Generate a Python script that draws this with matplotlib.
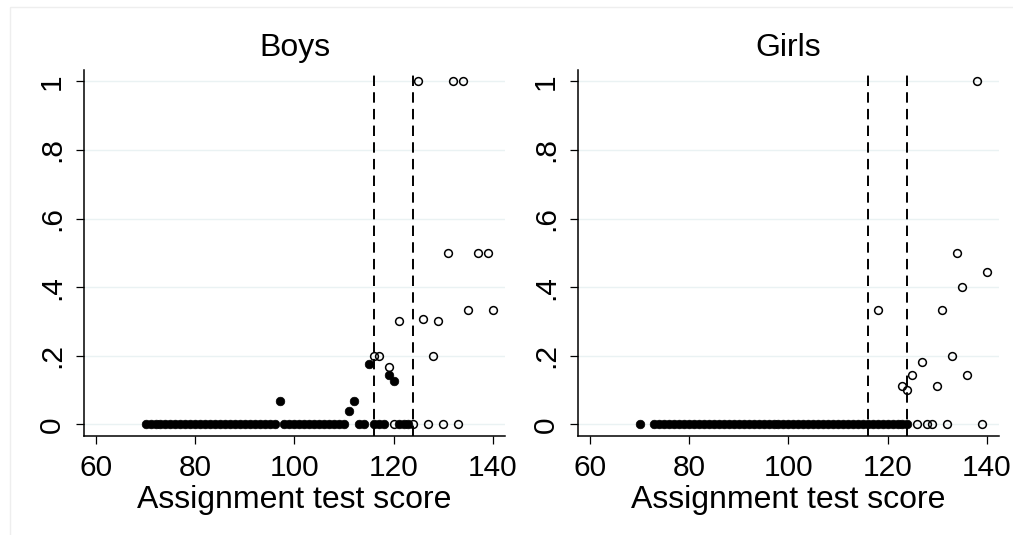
import matplotlib
matplotlib.use("Agg")
import matplotlib.pyplot as plt
from matplotlib.patches import Rectangle

plt.rcParams['font.family'] = ['Liberation Sans', 'DejaVu Sans']
plt.rcParams['lines.scale_dashes'] = False

# ---------------- data ----------------
panel_titles = ["Boys", "Girls"]
cutoffs = [116, 124]
x_ticks = [60, 80, 100, 120, 140]
y_ticks = [0, 0.2, 0.4, 0.6, 0.8, 1]
y_tick_labels = ["0", ".2", ".4", ".6", ".8", "1"]
x_label = "Assignment test score"

boys_filled_x = [70, 71, 72, 73, 74, 75, 76, 77, 78, 79, 80, 81, 82, 83, 84, 85,
                 86, 87, 88, 89, 90, 91, 92, 93, 94, 95, 96, 97, 98, 99, 100, 101,
                 102, 103, 104, 105, 106, 107, 108, 109, 110, 111, 112, 113, 114,
                 115, 116, 117, 118, 119, 120, 121, 122, 123]
boys_filled_y = [0, 0, 0, 0, 0, 0, 0, 0, 0, 0, 0, 0, 0, 0, 0, 0,
                 0, 0, 0, 0, 0, 0, 0, 0, 0, 0, 0, 0.067, 0, 0, 0, 0,
                 0, 0, 0, 0, 0, 0, 0, 0, 0, 0.04, 0.067, 0, 0,
                 0.176, 0, 0, 0, 0.143, 0.125, 0, 0, 0]

boys_hollow_x = [116, 117, 119, 120, 121, 124, 125, 126, 127, 128, 129, 130,
                 131, 132, 133, 134, 135, 137, 139, 140]
boys_hollow_y = [0.2, 0.2, 0.167, 0, 0.3, 0, 1, 0.308, 0, 0.2, 0.3, 0,
                 0.5, 1, 0, 1, 0.333, 0.5, 0.5, 0.333]

girls_filled_x = [70, 73, 74, 75, 76, 77, 78, 79, 80, 81, 82, 83, 84, 85, 86, 87,
                  88, 89, 90, 91, 92, 93, 94, 95, 96, 97, 98, 99, 100, 101, 102,
                  103, 104, 105, 106, 107, 108, 109, 110, 111, 112, 113, 114, 115,
                  116, 117, 118, 119, 120, 121, 122, 123, 124]
girls_filled_y = [0, 0, 0, 0, 0, 0, 0, 0, 0, 0, 0, 0, 0, 0, 0, 0,
                  0, 0, 0, 0, 0, 0, 0, 0, 0, 0, 0, 0, 0, 0, 0,
                  0, 0, 0, 0, 0, 0, 0, 0, 0, 0, 0, 0, 0,
                  0, 0, 0, 0, 0, 0, 0, 0, 0]

girls_hollow_x = [118, 123, 124, 125, 126, 127, 128, 129, 130, 131, 132, 133,
                  134, 135, 136, 138, 139, 140]
girls_hollow_y = [0.333, 0.111, 0.1, 0.143, 0, 0.182, 0, 0, 0.111, 0.333, 0, 0.2,
                  0.5, 0.4, 0.143, 1, 0, 0.444]

panels = [
    (boys_filled_x, boys_filled_y, boys_hollow_x, boys_hollow_y),
    (girls_filled_x, girls_filled_y, girls_hollow_x, girls_hollow_y),
]

# ---------------- figure ----------------
W, H = 1013, 535
fig = plt.figure(figsize=(W / 100, H / 100), dpi=100)
fig.patch.set_facecolor("white")

# faint outer graph-region border
fig.patches.append(Rectangle((10 / W, -0.1), 1.2, (H - 7) / H + 0.1,
                             transform=fig.transFigure, fill=False,
                             edgecolor="#eeeeee", linewidth=1.0))

ax_lefts = [84, 578]
ax_w = 421
ax_top, ax_bottom = 70, 436

for i, (fx, fy, hx, hy) in enumerate(panels):
    ax = fig.add_axes([ax_lefts[i] / W, (H - ax_bottom) / H, ax_w / W,
                       (ax_bottom - ax_top) / H])
    ax.set_xlim(57.58, 142.46)
    ax.set_ylim(-0.034, 1.033)

    for yt in y_ticks:
        ax.axhline(yt, color="#eaf2f3", linewidth=1.0, zorder=0)

    ax.plot(fx, fy, linestyle="none", marker="o", markersize=6.2,
            markerfacecolor="black", markeredgecolor="black",
            markeredgewidth=0.5, zorder=3)
    ax.plot(hx, hy, linestyle="none", marker="o", markersize=5.6,
            markerfacecolor="none", markeredgecolor="black",
            markeredgewidth=1.1, zorder=3)

    for c in cutoffs:
        ax.axvline(c, color="black", linewidth=1.4, linestyle=(0, (7.5, 4.5)),
                   zorder=4)

    ax.set_xticks(x_ticks)
    ax.set_yticks(y_ticks)
    ax.set_yticklabels(y_tick_labels, rotation=90, va="center")
    ax.tick_params(axis="both", direction="out", length=5.8, width=0.9,
                   labelsize=21.5, pad=7, colors="black")
    for s in ["top", "right"]:
        ax.spines[s].set_visible(False)
    for s in ["left", "bottom"]:
        ax.spines[s].set_linewidth(1.1)
    ax.set_xlabel(x_label, fontsize=23, labelpad=2)
    ax.set_title(panel_titles[i], fontsize=23, pad=10)

fig.savefig("out.png", dpi=100, facecolor="white")
